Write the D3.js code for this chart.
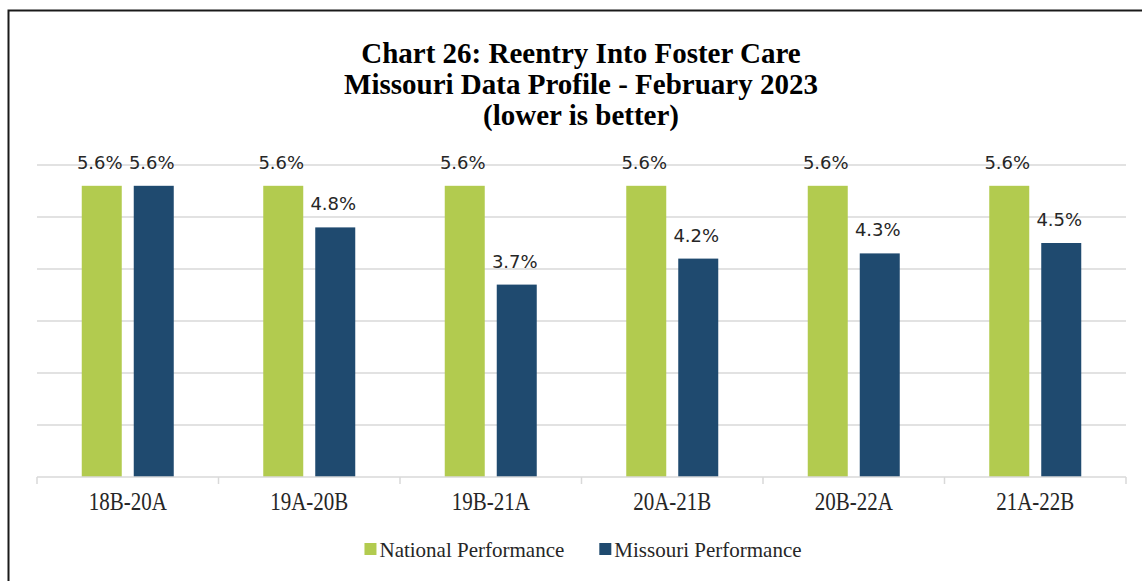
<!DOCTYPE html>
<html>
<head>
<meta charset="utf-8">
<script src="https://cdn.jsdelivr.net/npm/d3@7"></script>
<style>
  body { margin: 0; background: #fff; }
  svg { display: block; }
</style>
</head>
<body>
<svg id="chart" width="1142" height="581"></svg>
<script>
const categories = ["18B-20A", "19A-20B", "19B-21A", "20A-21B", "20B-22A", "21A-22B"];
const seriesNames = ["National Performance", "Missouri Performance"];
const national = [5.6, 5.6, 5.6, 5.6, 5.6, 5.6];
const missouri = [5.6, 4.8, 3.7, 4.2, 4.3, 4.5];
const yTicks = [0, 1, 2, 3, 4, 5, 6];
const titleLines = [
  "Chart 26: Reentry Into Foster Care",
  "Missouri Data Profile - February 2023",
  "(lower is better)"
];

const colors = { "National Performance": "#b2cb4f", "Missouri Performance": "#1f4a6f" };
const seriesValues = [national, missouri];

const svg = d3.select("#chart");
const width = +svg.attr("width");

// frame of the pasted chart
svg.append("path")
    .attr("d", "M8.5,581 L8.5,10.5 L1142,10.5")
    .attr("fill", "none")
    .attr("stroke", "#1a1a1a")
    .attr("stroke-width", 2);

// title
svg.append("g")
  .selectAll("text")
  .data(titleLines)
  .join("text")
    .attr("x", 581)
    .attr("y", (d, i) => 63 + i * 31)
    .attr("text-anchor", "middle")
    .attr("font-family", "'Liberation Serif', 'Times New Roman', serif")
    .attr("font-weight", "bold")
    .attr("font-size", "29px")
    .attr("fill", "#000")
    .text(d => d);

const plot = { left: 37, right: 1126, top: 165, bottom: 477 };

const x = d3.scaleBand()
    .domain(categories)
    .range([plot.left, plot.right]);

const xInner = d3.scaleBand()
    .domain(seriesNames)
    .range([44.75, x.bandwidth() - 44.75])
    .paddingInner(12 / 52);

const y = d3.scaleLinear()
    .domain([0, 6])
    .range([plot.bottom, plot.top]);

// gridlines
svg.append("g")
  .selectAll("line")
  .data(yTicks.slice(1))
  .join("line")
    .attr("x1", plot.left)
    .attr("x2", plot.right)
    .attr("y1", d => y(d))
    .attr("y2", d => y(d))
    .attr("stroke", "#d9d9d9")
    .attr("stroke-width", 1.5);

// bars
const groups = svg.append("g")
  .selectAll("g")
  .data(categories)
  .join("g")
    .attr("transform", d => `translate(${x(d)},0)`);

groups.selectAll("rect")
  .data((d, i) => seriesNames.map((s, k) => ({ s, v: seriesValues[k][i] })))
  .join("rect")
    .attr("x", d => xInner(d.s))
    .attr("width", xInner.bandwidth())
    .attr("y", d => y(d.v))
    .attr("height", d => y(0) - y(d.v))
    .attr("fill", d => colors[d.s]);

groups.selectAll("text")
  .data((d, i) => seriesNames.map((s, k) => ({ s, v: seriesValues[k][i] })))
  .join("text")
    .attr("x", d => xInner(d.s) + xInner.bandwidth() / 2 - 2)
    .attr("y", d => y(d.v) - 17)
    .attr("text-anchor", "middle")
    .attr("font-family", "'DejaVu Sans', sans-serif")
    .attr("font-size", "18px")
    .attr("fill", "#262626")
    .text(d => d.v.toFixed(1) + "%");

// x axis
const axis = svg.append("g");
axis.append("line")
    .attr("x1", plot.left)
    .attr("x2", plot.right)
    .attr("y1", y(0))
    .attr("y2", y(0))
    .attr("stroke", "#d9d9d9")
    .attr("stroke-width", 1.5);

axis.selectAll("line.tick")
  .data(categories.map(c => x(c)).concat([plot.right]))
  .join("line")
    .attr("class", "tick")
    .attr("x1", d => d)
    .attr("x2", d => d)
    .attr("y1", y(0))
    .attr("y2", y(0) + 7)
    .attr("stroke", "#d9d9d9")
    .attr("stroke-width", 1.5);

axis.selectAll("text")
  .data(categories)
  .join("text")
    .attr("transform", d => `translate(${x(d) + x.bandwidth() / 2},510) scale(1,1.2)`)
    .attr("text-anchor", "middle")
    .attr("font-family", "'Liberation Serif', 'Times New Roman', serif")
    .attr("font-size", "21px")
    .attr("fill", "#262626")
    .text(d => d);

// legend
const legend = svg.append("g");
const items = legend.selectAll("g")
  .data(seriesNames)
  .join("g");

items.append("rect")
    .attr("width", 12)
    .attr("height", 12)
    .attr("y", 543)
    .attr("fill", d => colors[d]);

items.append("text")
    .attr("x", 15)
    .attr("y", 557)
    .attr("font-family", "'Liberation Serif', 'Times New Roman', serif")
    .attr("font-size", "21px")
    .attr("fill", "#262626")
    .text(d => d);

let offset = 0;
const widths = [];
items.each(function() {
  widths.push(15 + d3.select(this).select("text").node().getComputedTextLength());
});
const gap = 35;
const total = d3.sum(widths) + gap * (widths.length - 1);
let start = 583 - total / 2;
items.attr("transform", (d, i) => {
  const t = `translate(${start + offset},0)`;
  offset += widths[i] + gap;
  return t;
});
</script>
</body>
</html>
